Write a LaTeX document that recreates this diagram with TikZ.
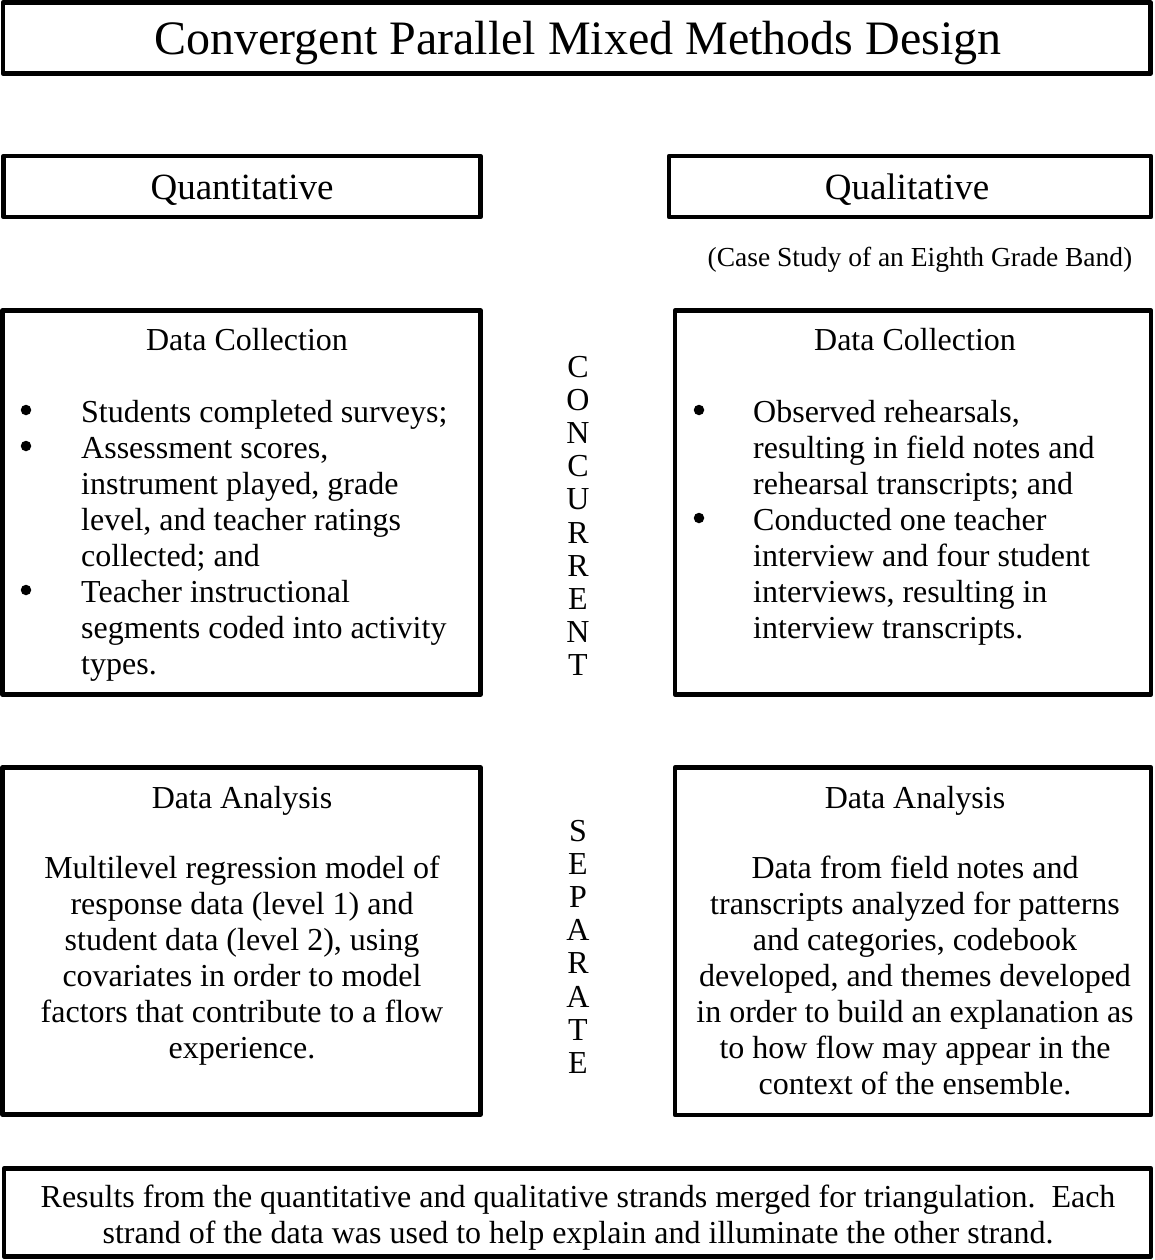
\documentclass[tikz,border=0pt]{standalone}
\usepackage{fontspec}
\setmainfont{Liberation Serif}
\begin{document}
\begin{tikzpicture}[x=1pt,y=-1pt,
  frame/.style={draw=black,line width=4.5pt,line join=round},
  txt/.style={inner sep=0pt,anchor=base,font=\fontsize{32}{36}\selectfont},
  txtl/.style={txt,anchor=base west},
  dot/.style={circle,fill=black,inner sep=0pt,minimum size=10.5pt}]
\useasboundingbox (0,0) rectangle (1154,1260);

% frames
\draw[frame] (3,2.5) rectangle (1150.5,73.5);
\draw[frame] (3.5,156) rectangle (480.5,217);
\draw[frame] (669,156) rectangle (1151,217);
\draw[frame] (2.5,310.5) rectangle (480.5,694.5);
\draw[frame] (675,310.5) rectangle (1151,694.5);
\draw[frame] (2.5,767.5) rectangle (480.5,1114.5);
\draw[frame] (675,767.5) rectangle (1151,1115);
\draw[frame] (4,1168.5) rectangle (1151,1256.5);

% headings
\node[txt,font=\fontsize{48}{54}\selectfont] (title) at (578,55) {Convergent Parallel Mixed Methods Design};
\node[txt,font=\fontsize{37}{42}\selectfont] (quan) at (242,200) {Quantitative};
\node[txt,font=\fontsize{37}{42}\selectfont] (qual) at (907,200) {Qualitative};
\node[txt,font=\fontsize{27.5}{32}\selectfont] (case) at (920,266) {(Case Study of an Eighth Grade Band)};

% data collection, quantitative strand
\node[txt] (dcl) at (247,350) {Data Collection};
\foreach \t [count=\i] in {Students completed surveys;,
    {Assessment scores,},
    {instrument played, grade},
    {level, and teacher ratings},
    collected; and,
    Teacher instructional,
    segments coded into activity,
    types.}
  \node[txtl] (dcl\i) at (81,{412+(\i-1)*36.1+10}) {\t};
\foreach \i/\y in {a/422,b/458,c/602}
  \node[dot] (bl\i) at (26,\y-12) {};

% data collection, qualitative strand
\node[txt] (dcr) at (915,350) {Data Collection};
\foreach \t [count=\i] in {{Observed rehearsals,},
    resulting in field notes and,
    rehearsal transcripts; and,
    Conducted one teacher,
    interview and four student,
    {interviews, resulting in},
    interview transcripts.}
  \node[txtl] (dcr\i) at (753,{412+(\i-1)*36.1+10}) {\t};
\foreach \i/\y in {a/422,b/530}
  \node[dot] (br\i) at (699,\y-12) {};

% vertical words between the strands
\foreach \c [count=\i] in {C,O,N,C,U,R,R,E,N,T}
  \node[txt] (cc\i) at (578,{367+(\i-1)*33.1+10.5}) {\c};
\foreach \c [count=\i] in {S,E,P,A,R,A,T,E}
  \node[txt] (ss\i) at (578,{831+(\i-1)*33.1+10.5}) {\c};

% data analysis, quantitative strand
\node[txt] (dal) at (242,808) {Data Analysis};
\foreach \t [count=\i] in {Multilevel regression model of,
    response data (level 1) and,
    {student data (level 2), using},
    covariates in order to model,
    factors that contribute to a flow,
    experience.}
  \node[txt] (dal\i) at (242,{868+(\i-1)*36.1+10}) {\t};

% data analysis, qualitative strand
\node[txt] (dar) at (915,808) {Data Analysis};
\foreach \t [count=\i] in {Data from field notes and,
    transcripts analyzed for patterns,
    {and categories, codebook},
    {developed, and themes developed},
    in order to build an explanation as,
    to how flow may appear in the,
    context of the ensemble.}
  \node[txt] (dar\i) at (915,{868+(\i-1)*36.1+10}) {\t};

% merged results
\node[txt] (res1) at (578,1207) {Results from the quantitative and qualitative strands merged for triangulation.\ \ Each};
\node[txt] (res2) at (578,1243) {strand of the data was used to help explain and illuminate the other strand.};
\end{tikzpicture}
\end{document}
